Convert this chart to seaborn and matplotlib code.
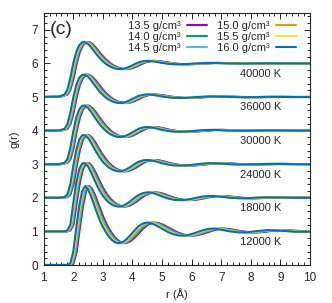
import numpy as np
import pandas as pd
import matplotlib.pyplot as plt
from matplotlib.lines import Line2D
from matplotlib.ticker import MultipleLocator
import seaborn as sns

# r grid (Angstrom) for the 16.0 g/cm3 curves
r_grid = [0.9, 1.5, 1.7, 1.8, 1.9, 2.0, 2.1, 2.2, 2.3, 2.4, 2.5, 2.6, 2.7, 2.8, 2.9,
          3.0, 3.1, 3.2, 3.3, 3.4, 3.5, 3.6, 3.7, 3.8, 3.9, 4.0, 4.1, 4.2, 4.3, 4.4,
          4.5, 4.6, 4.7, 4.8, 5.0, 5.2, 5.4, 5.6, 5.8, 6.0, 6.2, 6.4, 6.6, 6.8, 7.0,
          7.3, 7.6, 7.9, 8.2, 8.6, 9.0, 9.5, 10.0]

g_12000 = [0, 0, 0, 0.0, 0.05, 0.4, 1.1, 1.75, 2.2, 2.35, 2.25, 2.05, 1.8, 1.55, 1.32,
           1.13, 0.98, 0.85, 0.75, 0.68, 0.65, 0.66, 0.70, 0.77, 0.86, 0.96, 1.06, 1.15, 1.21, 1.25,
           1.26, 1.25, 1.22, 1.18, 1.08, 0.98, 0.91, 0.875, 0.88, 0.92, 0.98, 1.04, 1.08, 1.08, 1.05,
           1.0, 0.97, 0.975, 1.01, 1.04, 1.02, 0.99, 0.99]
g_18000 = [0, 0, 0.0, 0.03, 0.2, 0.85, 1.45, 1.85, 2.02, 2.03, 1.93, 1.76, 1.56, 1.37, 1.2,
           1.06, 0.95, 0.86, 0.8, 0.76, 0.74, 0.745, 0.77, 0.82, 0.88, 0.95, 1.02, 1.08, 1.12, 1.15,
           1.16, 1.155, 1.14, 1.11, 1.04, 0.98, 0.94, 0.93, 0.94, 0.97, 1.01, 1.04, 1.055, 1.05, 1.03,
           1.0, 0.985, 0.99, 1.005, 1.015, 1.01, 1.0, 1.0]
g_24000 = [0, 0, 0.02, 0.1, 0.4, 0.95, 1.42, 1.73, 1.86, 1.86, 1.78, 1.64, 1.48, 1.33, 1.19,
           1.07, 0.98, 0.9, 0.85, 0.81, 0.79, 0.79, 0.81, 0.85, 0.9, 0.96, 1.02, 1.07, 1.1, 1.12,
           1.125, 1.12, 1.1, 1.08, 1.03, 0.99, 0.965, 0.96, 0.965, 0.98, 1.0, 1.02, 1.03, 1.03, 1.02,
           1.0, 0.99, 0.995, 1.0, 1.01, 1.005, 1.0, 1.0]
g_30000 = [0, 0, 0.04, 0.15, 0.48, 0.98, 1.38, 1.63, 1.74, 1.74, 1.67, 1.56, 1.43, 1.3, 1.18,
           1.08, 0.99, 0.92, 0.87, 0.835, 0.815, 0.81, 0.82, 0.855, 0.9, 0.95, 1.0, 1.05, 1.08, 1.1,
           1.105, 1.1, 1.085, 1.065, 1.02, 0.99, 0.97, 0.965, 0.97, 0.985, 1.0, 1.015, 1.02, 1.02, 1.01,
           1.0, 0.995, 0.995, 1.0, 1.005, 1.005, 1.0, 1.0]
g_36000 = [0, 0, 0.05, 0.19, 0.53, 0.99, 1.35, 1.57, 1.66, 1.66, 1.6, 1.5, 1.38, 1.26, 1.15,
           1.06, 0.98, 0.92, 0.875, 0.845, 0.825, 0.82, 0.83, 0.86, 0.9, 0.945, 0.99, 1.03, 1.055, 1.07,
           1.075, 1.07, 1.06, 1.045, 1.015, 0.99, 0.975, 0.97, 0.975, 0.985, 1.0, 1.01, 1.015, 1.015, 1.01,
           1.0, 0.995, 0.995, 1.0, 1.005, 1.0, 1.0, 1.0]
g_40000 = [0, 0.01, 0.07, 0.22, 0.56, 1.0, 1.34, 1.54, 1.63, 1.63, 1.58, 1.48, 1.37, 1.25, 1.15,
           1.06, 0.985, 0.93, 0.885, 0.855, 0.835, 0.83, 0.84, 0.865, 0.9, 0.945, 0.99, 1.03, 1.055, 1.07,
           1.075, 1.07, 1.06, 1.045, 1.015, 0.99, 0.975, 0.975, 0.98, 0.99, 1.0, 1.01, 1.015, 1.01, 1.005,
           1.0, 0.995, 0.995, 1.0, 1.005, 1.0, 1.0, 1.0]

temps = ["12000 K", "18000 K", "24000 K", "30000 K", "36000 K", "40000 K"]
g_by_temp = [g_12000, g_18000, g_24000, g_30000, g_36000, g_40000]
offsets = [0, 1, 2, 3, 4, 5]

densities = ["13.5", "14.0", "14.5", "15.0", "15.5", "16.0"]
# lower density -> peaks shifted to larger r
r_scale = [1.058, 1.045, 1.033, 1.022, 1.011, 1.0]
colors = ["#9400d3", "#009e73", "#56b4e9", "#e69f00", "#f0e442", "#0072b2"]

rows = []
for t, g, off in zip(temps, g_by_temp, offsets):
    for d, s in zip(densities, r_scale):
        for r, v in zip(r_grid, g):
            rows.append((t, d, r * s, v + off))
df = pd.DataFrame(rows, columns=["T", "density", "r", "g"])

sns.set_style("ticks")
plt.rcParams["font.family"] = ["Liberation Sans", "DejaVu Sans"]
plt.rcParams["xtick.direction"] = "in"
plt.rcParams["ytick.direction"] = "in"

fig = plt.figure(figsize=(3.32, 3.03), dpi=100)
ax = fig.add_axes([0.1316, 0.1254, 0.8021, 0.8317])

sns.lineplot(data=df, x="r", y="g", hue="density", hue_order=densities,
             palette=colors, units="T", estimator=None, sort=False,
             lw=1.5, legend=False, ax=ax)

for t, off in zip(temps, offsets):
    ax.text(9.02, off + 0.69, t, ha="right", va="center", fontsize=8)

ax.text(1.2, 7.02, "(c)", ha="left", va="center", fontsize=14)

handles = [Line2D([], [], color=c, lw=1.5) for c in colors]
labels = [d + " g/cm³" for d in densities]
ax.legend(handles, labels, ncol=2, loc="upper right", frameon=False,
          fontsize=8, markerfirst=False, handlelength=1.8,
          labelspacing=0.08, columnspacing=0.9, handletextpad=0.6,
          borderaxespad=0.0, bbox_to_anchor=(0.965, 0.985))

ax.set_xlim(1, 10)
ax.set_ylim(0, 7.5)
ax.xaxis.set_major_locator(MultipleLocator(1))
ax.xaxis.set_minor_locator(MultipleLocator(0.2))
ax.yaxis.set_major_locator(MultipleLocator(1))
ax.yaxis.set_minor_locator(MultipleLocator(0.2))
ax.tick_params(which="both", top=True, right=True, labelsize=8.5, width=0.7)
ax.tick_params(axis="x", pad=5)
ax.tick_params(axis="y", pad=4)
ax.tick_params(which="major", length=4)
ax.tick_params(which="minor", length=2)
for sp in ax.spines.values():
    sp.set_linewidth(0.8)
ax.set_xlabel("r (Å)", fontsize=8, labelpad=3)
ax.set_ylabel("g(r)", fontsize=8, labelpad=9)

fig.savefig("out.png", dpi=100)
